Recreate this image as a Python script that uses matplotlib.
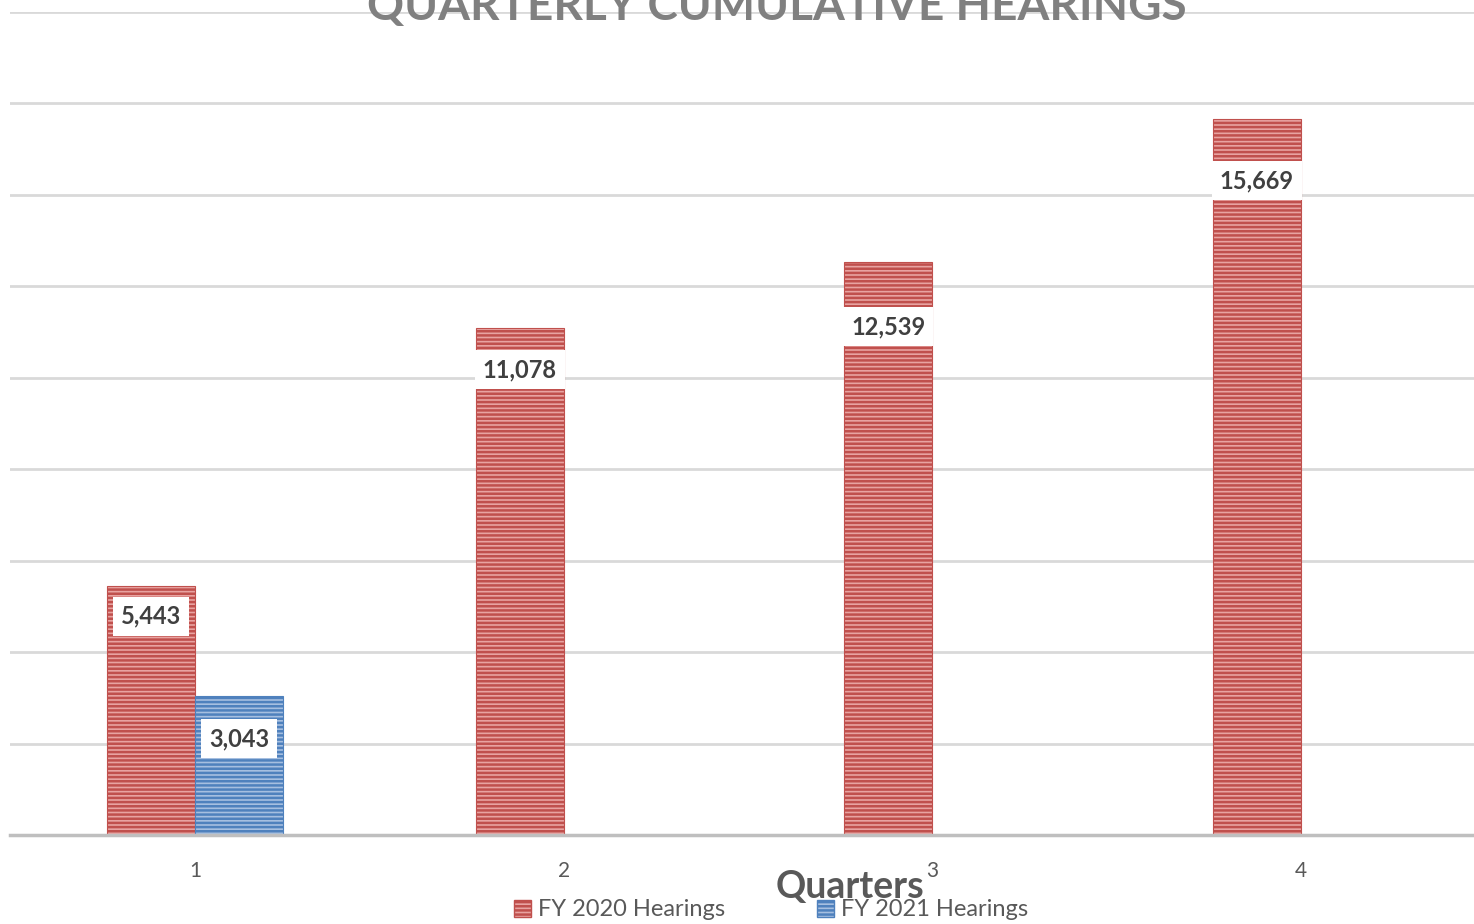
import numpy as np
import matplotlib
matplotlib.use('Agg')
import matplotlib.pyplot as plt
from matplotlib.patches import Patch

plt.rcParams['font.family'] = ['Lato', 'DejaVu Sans']
plt.rcParams['hatch.linewidth'] = 1.8

quarters = [1, 2, 3, 4]
fy2020 = [5443, 11078, 12539, 15669]
fy2021 = [3043, np.nan, np.nan, np.nan]
series_names = ['FY 2020 Hearings', 'FY 2021 Hearings']

# label drop below the bar top, in pixels (Excel put them where it liked)
off2020 = [30, 41, 65, 62]
off2021 = [43, 0, 0, 0]

red_face, red_line = '#E8A3A1', '#C0504D'
blue_face, blue_line = '#A6BFE0', '#4F81BD'
txt = '#595959'

W, H = 1474, 924
fig = plt.figure(figsize=(W / 100, H / 100), dpi=100)
ax = fig.add_axes([10 / W, 1 - 835 / H, 1 - 10 / W, (835 - 12) / H])

x = np.array(quarters, dtype=float)
bw = 0.239
b1 = ax.bar(x - bw / 2, fy2020, bw, color=red_face, edgecolor=red_line,
            hatch='----', linewidth=0.8, zorder=2)
b2 = ax.bar(x + bw / 2, fy2021, bw, color=blue_face, edgecolor=blue_line,
            hatch='----', linewidth=0.8, zorder=2)


def label(xc, v, off):
    if np.isnan(v):
        return
    ax.annotate(f'{v:,.0f}', xy=(xc, v), xytext=(0, -off * 0.72),
                textcoords='offset points', ha='center', va='center',
                fontsize=17, fontweight='bold', color='#404040', zorder=4,
                bbox=dict(boxstyle='square,pad=0.34', fc='white', ec='none'))


for xc, v, o in zip(x - bw / 2, fy2020, off2020):
    label(xc, v, o)
for xc, v, o in zip(x + bw / 2, fy2021, off2021):
    label(xc, v, o)

ax.set_xlim(0.498, 4.47)
ax.set_ylim(0, 18000)
ax.set_yticks(np.arange(0, 18001, 2000))
ax.yaxis.grid(True, color='#D9D9D9', linewidth=2, zorder=0)
ax.set_axisbelow(True)
ax.tick_params(axis='y', left=False, labelleft=False)
ax.set_xticks(quarters)
ax.set_xticklabels([str(q) for q in quarters])
ax.tick_params(axis='x', length=0, pad=19, labelsize=15, labelcolor=txt)
for s in ['top', 'right', 'left']:
    ax.spines[s].set_visible(False)
ax.spines['bottom'].set_color('#BFBFBF')
ax.spines['bottom'].set_linewidth(2.5)
ax.spines['bottom'].set_zorder(3)

fig.text(777 / W, 1 - 20 / H, 'QUARTERLY CUMULATIVE HEARINGS', ha='center',
         va='baseline', fontsize=33, fontweight='bold', color='#808080')

fig.text(850 / W, 1 - 887 / H, 'Quarters', ha='center', va='center',
         fontsize=27, fontweight='bold', color=txt)

handles = [Patch(facecolor=red_face, edgecolor=red_line, hatch='----'),
           Patch(facecolor=blue_face, edgecolor=blue_line, hatch='----')]
fig.legend(handles, series_names, loc='center', bbox_to_anchor=(771 / W, 1 - 910 / H),
           ncol=2, frameon=False, fontsize=17, labelcolor=txt,
           handlelength=0.7, handleheight=0.7, handletextpad=0.3,
           columnspacing=3.9, borderpad=0)

fig.savefig('out.png', dpi=100)
